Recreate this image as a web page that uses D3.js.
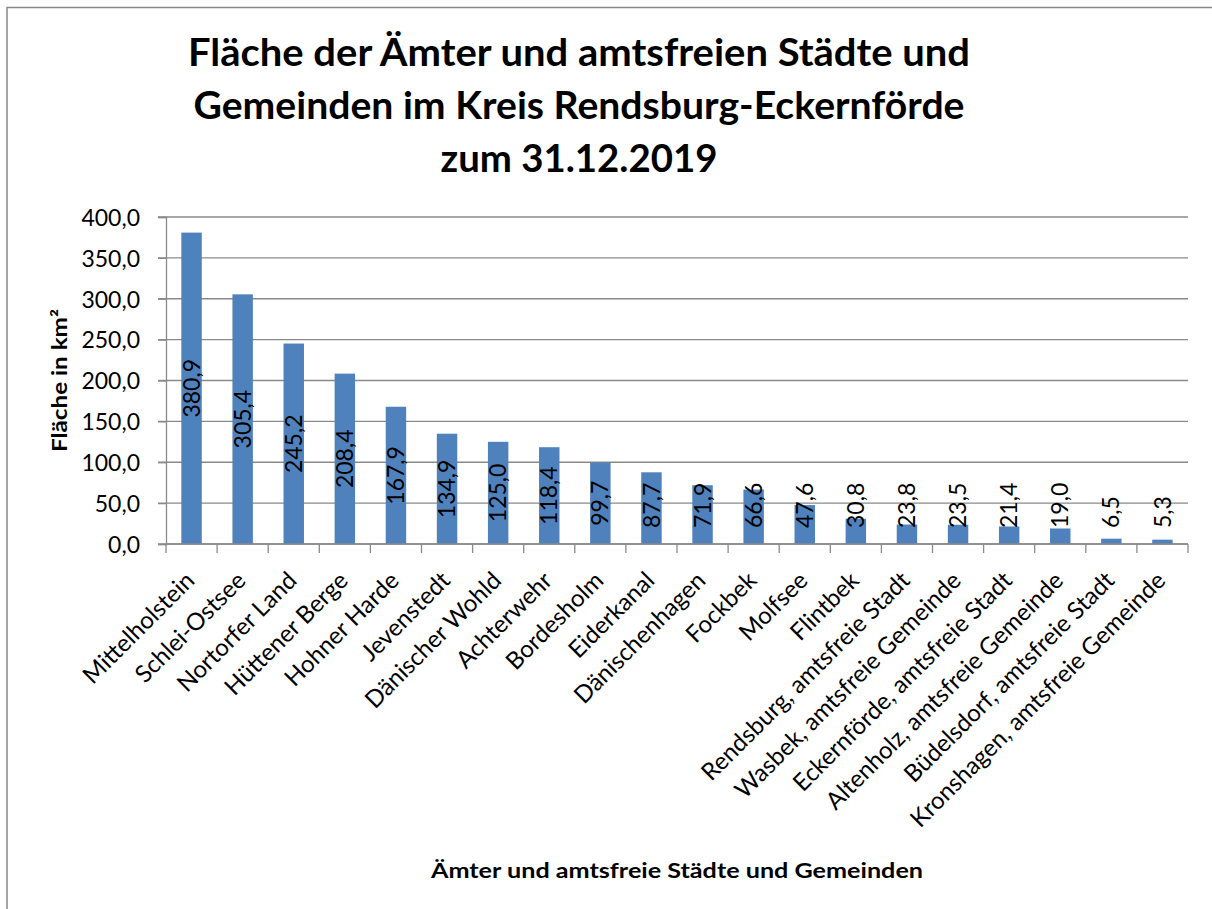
<!DOCTYPE html>
<html>
<head>
<meta charset="utf-8">
<script src="https://cdn.jsdelivr.net/npm/d3@7"></script>
<style>
  html, body { margin: 0; padding: 0; background: #fff; overflow: hidden; width: 1212px; height: 909px; }
  svg { display: block; overflow: hidden; }
  text { font-family: Lato, "Open Sans", sans-serif; fill: #000; }
</style>
</head>
<body>
<svg id="chart" width="1212" height="909"></svg>
<script>
const categories = [
  "Mittelholstein", "Schlei-Ostsee", "Nortorfer Land", "Hüttener Berge", "Hohner Harde",
  "Jevenstedt", "Dänischer Wohld", "Achterwehr", "Bordesholm", "Eiderkanal",
  "Dänischenhagen", "Fockbek", "Molfsee", "Flintbek", "Rendsburg, amtsfreie Stadt",
  "Wasbek, amtsfreie Gemeinde", "Eckernförde, amtsfreie Stadt", "Altenholz, amtsfreie Gemeinde",
  "Büdelsdorf, amtsfreie Stadt", "Kronshagen, amtsfreie Gemeinde"
];
const values = [380.9, 305.4, 245.2, 208.4, 167.9, 134.9, 125.0, 118.4, 99.7, 87.7,
                71.9, 66.6, 47.6, 30.8, 23.8, 23.5, 21.4, 19.0, 6.5, 5.3];
const yTicks = [0, 50, 100, 150, 200, 250, 300, 350, 400];
const titleLines = ["Fläche der Ämter und amtsfreien Städte und",
                    "Gemeinden im Kreis Rendsburg-Eckernförde",
                    "zum 31.12.2019"];
const yTitle = "Fläche in km²";
const xTitle = "Ämter und amtsfreie Städte und Gemeinden";

(function () {
const data = categories.map((c, i) => ({ name: c, value: values[i] }));
const fmt = v => d3.format(".1f")(v).replace(".", ",");

const svg = d3.select("#chart");

// outer chart border: only left and top edges fall inside the picture
svg.append("path")
  .attr("d", "M7,909 L7,7.5 L1212,7.5")
  .attr("fill", "none")
  .attr("stroke", "#888").attr("stroke-width", 1.5);

const pLeft = 166, pRight = 1188, pTop = 217, pBottom = 544;

const x = d3.scaleBand().domain(categories).range([pLeft, pRight]).paddingInner(0.6).paddingOuter(0.3);
const y = d3.scaleLinear().domain([0, 400]).range([pBottom, pTop]);

// gridlines
svg.append("g")
  .selectAll("line").data(yTicks).join("line")
  .attr("x1", pLeft - 8).attr("x2", pRight)
  .attr("y1", d => y(d)).attr("y2", d => y(d))
  .attr("stroke", "#8a8a8a").attr("stroke-width", 1.3);

// y axis
const yAxis = svg.append("g")
  .attr("transform", `translate(${pLeft},0)`)
  .call(d3.axisLeft(y).tickValues(yTicks).tickFormat(fmt).tickSize(8).tickPadding(18));
yAxis.select(".domain").attr("stroke", "#8a8a8a").attr("stroke-width", 1.3);
yAxis.selectAll(".tick line").attr("stroke", "#8a8a8a").attr("stroke-width", 1.3);
yAxis.selectAll(".tick text")
  .style("font-family", "Lato, sans-serif").style("font-size", "23px").attr("fill", "#000")
  .attr("dy", "0.36em");

// bars
svg.append("g")
  .selectAll("rect").data(data).join("rect")
  .attr("x", d => x(d.name))
  .attr("width", x.bandwidth())
  .attr("y", d => y(d.value))
  .attr("height", d => y(0) - y(d.value))
  .attr("fill", "#4F81BD");

// x axis
const step = x.step();
const xAxisG = svg.append("g").attr("transform", `translate(0,${pBottom})`);
xAxisG.append("line").attr("x1", pLeft).attr("x2", pRight).attr("y1", 0).attr("y2", 0)
  .attr("stroke", "#8a8a8a").attr("stroke-width", 1.3);
const boundaries = d3.range(categories.length + 1).map(i => pLeft + i * step);
xAxisG.selectAll("line.tk").data(boundaries).join("line").attr("class", "tk")
  .attr("x1", d => d).attr("x2", d => d).attr("y1", 0).attr("y2", 9)
  .attr("stroke", "#8a8a8a").attr("stroke-width", 1.3);

// category labels
svg.append("g")
  .selectAll("text").data(data).join("text")
  .attr("transform", d => `translate(${x(d.name) + x.bandwidth() / 2 + 4.5},582) rotate(-45)`)
  .attr("text-anchor", "end")
  .style("font-size", "24px")
  .text(d => d.name);

// data labels
const lbl = svg.append("g")
  .selectAll("text").data(data).join("text")
  .attr("text-anchor", "middle")
  .attr("dy", "0.35em")
  .style("font-size", "23px")
  .text(d => fmt(d.value));
lbl.each(function(d) {
  const len = this.getComputedTextLength();
  const mid = (y(d.value) + y(0)) / 2;
  const cy = Math.min(mid, pBottom - 16 - len / 2);
  d3.select(this).attr("transform", `translate(${x(d.name) + x.bandwidth() / 2},${cy}) rotate(-90)`);
});

// title
const titleBase = [66, 119, 172];
const titleWidths = [782, 771, 277];
svg.append("g")
  .selectAll("text").data(titleLines).join("text")
  .attr("x", 579).attr("y", (d, i) => titleBase[i])
  .attr("text-anchor", "middle")
  .style("font-size", "38px").style("font-weight", "bold")
  .attr("textLength", (d, i) => titleWidths[i])
  .attr("lengthAdjust", "spacingAndGlyphs")
  .text(d => d);

// y axis title
svg.append("text")
  .attr("transform", `translate(67,${(pTop + pBottom) / 2}) rotate(-90)`)
  .attr("text-anchor", "middle")
  .style("font-size", "20px").style("font-weight", "bold")
  .attr("textLength", 143).attr("lengthAdjust", "spacingAndGlyphs")
  .text(yTitle);

// x axis title
svg.append("text")
  .attr("x", (pLeft + pRight) / 2).attr("y", 878)
  .attr("text-anchor", "middle")
  .style("font-size", "20px").style("font-weight", "bold")
  .attr("textLength", 492).attr("lengthAdjust", "spacingAndGlyphs")
  .text(xTitle);
})();
</script>
</body>
</html>
